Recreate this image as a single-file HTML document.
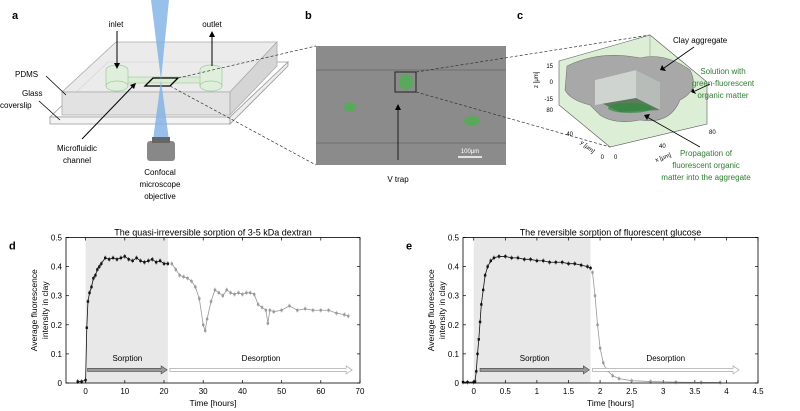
<!DOCTYPE html>
<html><head><meta charset="utf-8"><style>
body{margin:0;background:#fff;}
svg{display:block;font-family:"Liberation Sans",sans-serif;}
</style></head><body>
<svg width="800" height="411" viewBox="0 0 800 411">
<!-- Panel a -->
<g>
<text x="12" y="19" font-size="11" font-weight="bold">a</text>
<polygon points="50,117 230,117 288,62 108,62" fill="#fff" stroke="#999" stroke-width="0.8"/>
<polygon points="50,117 230,117 230,124 50,124" fill="#f3f3f3" stroke="#999" stroke-width="0.8"/>
<polygon points="230,117 288,62 288,66 230,124" fill="#eee" stroke="#999" stroke-width="0.8"/>
<polygon points="62,92 230,92 277,42 116,42" fill="#e6e6e6" fill-opacity="0.8" stroke="#aaa" stroke-width="0.8"/>
<polygon points="62,92 230,92 230,115 62,115" fill="#e2e2e2" stroke="#aaa" stroke-width="0.8"/>
<polygon points="230,92 277,42 277,66 230,115" fill="#d5d5d5" stroke="#aaa" stroke-width="0.8"/>
<rect x="118" y="77" width="90" height="6" fill="#dcebd6" stroke="#9c9" stroke-width="0.6"/>
<ellipse cx="117" cy="70" rx="11" ry="5" fill="#e0eedc" stroke="#9c9" stroke-width="0.7"/>
<rect x="106" y="70" width="22" height="16" fill="#e0eedc" stroke="none"/>
<ellipse cx="117" cy="86" rx="11" ry="5" fill="#e0eedc" stroke="#9c9" stroke-width="0.7"/>
<line x1="106" y1="70" x2="106" y2="86" stroke="#9c9" stroke-width="0.7"/><line x1="128" y1="70" x2="128" y2="86" stroke="#9c9" stroke-width="0.7"/>
<ellipse cx="211" cy="70" rx="11" ry="5" fill="#e0eedc" stroke="#9c9" stroke-width="0.7"/>
<rect x="200" y="70" width="22" height="16" fill="#e0eedc" stroke="none"/>
<ellipse cx="211" cy="86" rx="11" ry="5" fill="#e0eedc" stroke="#9c9" stroke-width="0.7"/>
<line x1="200" y1="70" x2="200" y2="86" stroke="#9c9" stroke-width="0.7"/><line x1="222" y1="70" x2="222" y2="86" stroke="#9c9" stroke-width="0.7"/>
<polygon points="145,86 170,86 178,78 153,78" fill="none" stroke="#000" stroke-width="1.3"/>
<polygon points="151,0 169,0 161,80" fill="#7fb0e6" fill-opacity="0.8"/>
<polygon points="161,80 153,140 169,140" fill="#7fb0e6" fill-opacity="0.8"/>
<rect x="147" y="141" width="28" height="20" rx="3" fill="#888"/>
<rect x="152" y="137" width="18" height="6" fill="#666"/>
<text x="116" y="27" font-size="8" text-anchor="middle">inlet</text>
<line x1="117" y1="31" x2="117" y2="66" stroke="#000" stroke-width="1"/><polygon points="114,63 120,63 117,69"/>
<text x="212" y="27" font-size="8" text-anchor="middle">outlet</text>
<line x1="212" y1="66" x2="212" y2="34" stroke="#000" stroke-width="1"/><polygon points="209,37 215,37 212,31"/>
<text x="15" y="77" font-size="8">PDMS</text>
<line x1="46" y1="76" x2="66" y2="95" stroke="#000" stroke-width="0.8"/>
<text x="22" y="96" font-size="8">Glass</text><text x="0" y="108" font-size="8">coverslip</text>
<line x1="39" y1="101" x2="60" y2="120" stroke="#000" stroke-width="0.8"/>
<text x="77" y="151" font-size="8" text-anchor="middle">Microfluidic</text><text x="77" y="163" font-size="8" text-anchor="middle">channel</text>
<line x1="82" y1="139" x2="134" y2="85" stroke="#000" stroke-width="1"/><polygon points="130,85 136,83 134,89"/>
<text x="160" y="175" font-size="8" text-anchor="middle">Confocal</text><text x="160" y="187" font-size="8" text-anchor="middle">microscope</text><text x="160" y="199" font-size="8" text-anchor="middle">objective</text>
<line x1="178" y1="78" x2="316" y2="46" stroke="#333" stroke-width="0.7" stroke-dasharray="3,2"/>
<line x1="170" y1="86" x2="316" y2="165" stroke="#333" stroke-width="0.7" stroke-dasharray="3,2"/>
</g>
<!-- Panel b -->
<g>
<text x="305" y="19" font-size="11" font-weight="bold">b</text>
<rect x="316" y="46" width="190" height="119" fill="#8b8b8b"/>
<line x1="316" y1="70" x2="506" y2="70" stroke="#666" stroke-width="0.8"/>
<line x1="316" y1="143" x2="506" y2="143" stroke="#666" stroke-width="0.8"/>
<ellipse cx="350" cy="107" rx="6" ry="5" fill="#4caf50" fill-opacity="0.8"/>
<ellipse cx="406" cy="82" rx="7" ry="8" fill="#4caf50" fill-opacity="0.8"/>
<ellipse cx="472" cy="121" rx="8" ry="5" fill="#4caf50" fill-opacity="0.8"/>
<rect x="395" y="72" width="21" height="20" fill="none" stroke="#222" stroke-width="1"/>
<line x1="398" y1="160" x2="398" y2="107" stroke="#000" stroke-width="0.8"/><polygon points="395,110 401,110 398,104"/>
<text x="398" y="182" font-size="8" text-anchor="middle">V trap</text>
<text x="470" y="153" font-size="6" fill="#fff" text-anchor="middle">100μm</text>
<line x1="458" y1="157" x2="482" y2="157" stroke="#fff" stroke-width="1.5"/>
<line x1="416" y1="72" x2="650" y2="35" stroke="#333" stroke-width="0.7" stroke-dasharray="3,2"/>
<line x1="416" y1="92" x2="610" y2="147" stroke="#333" stroke-width="0.7" stroke-dasharray="3,2"/>
</g>
<!-- Panel c -->
<g>
<text x="517" y="19" font-size="11" font-weight="bold">c</text>
<polygon points="559,61 650,35 707,82 707,124 610,147 559,105" fill="#dcefd6" stroke="#555" stroke-width="0.6"/>
<line x1="650" y1="35" x2="650" y2="80" stroke="#888" stroke-width="0.5"/>
<path d="M567,66 Q600,50 640,58 Q665,52 690,70 Q700,90 680,100 Q670,125 640,120 Q615,125 600,115 L590,105 Q570,100 565,90 Z" fill="#a8a8a8" stroke="#777" stroke-width="0.6"/>
<polygon points="595,80 636,70 660,82 660,110 620,112 595,100" fill="#5c7a5c"/>
<polygon points="595,80 636,70 636,98 595,105" fill="#d0d4d0"/>
<polygon points="636,70 660,82 660,110 636,98" fill="#b8bcb8"/>
<ellipse cx="630" cy="108" rx="22" ry="5" fill="#2e8b3e" fill-opacity="0.7"/>
<text x="553" y="68" font-size="6" text-anchor="end">15</text><text x="553" y="84" font-size="6" text-anchor="end">0</text><text x="553" y="101" font-size="6" text-anchor="end">-15</text>
<text x="553" y="112" font-size="6" text-anchor="end">80</text><text x="573" y="136" font-size="6" text-anchor="end">40</text><text x="604" y="159" font-size="6" text-anchor="end">0</text>
<text x="614" y="159" font-size="6">0</text><text x="659" y="148" font-size="6">40</text><text x="709" y="134" font-size="6">80</text>
<text x="538" y="88" font-size="6" transform="rotate(-90 538 88)">z [μm]</text>
<text x="580" y="143" font-size="6" transform="rotate(40 580 143)">y [μm]</text>
<text x="656" y="162" font-size="6" transform="rotate(-20 656 162)">x [μm]</text>
<text x="673" y="43" font-size="8">Clay aggregate</text>
<line x1="694" y1="47" x2="664" y2="68" stroke="#000" stroke-width="0.8"/><polygon points="662,65 666,71 660,70"/>
<text x="723" y="74" font-size="8" fill="#2e7d32" text-anchor="middle">Solution with</text>
<text x="723" y="86" font-size="8" fill="#2e7d32" text-anchor="middle">green-fluorescent</text>
<text x="723" y="98" font-size="8" fill="#2e7d32" text-anchor="middle">organic matter</text>
<line x1="710" y1="84" x2="695" y2="91" stroke="#000" stroke-width="0.8"/><polygon points="693,88 696,94 691,92"/>
<text x="706" y="156" font-size="8" fill="#2e7d32" text-anchor="middle">Propagation of</text>
<text x="706" y="168" font-size="8" fill="#2e7d32" text-anchor="middle">fluorescent organic</text>
<text x="706" y="180" font-size="8" fill="#2e7d32" text-anchor="middle">matter into the aggregate</text>
<line x1="700" y1="147" x2="647" y2="117" stroke="#000" stroke-width="0.8"/><polygon points="644,115 650,114 647,120"/>
</g>
<g id="chartD"></g>
<g id="chartE"></g>
</svg>
<script>
const dSorpT=[-2,-1,0,0.3,0.6,1,1.5,2,2.5,3,3.5,4,5,6,7,8,9,10,11,12,13,14,15,16,17,18,19,20,21];
const dSorpV=[0.005,0.005,0.01,0.19,0.28,0.31,0.33,0.36,0.37,0.39,0.40,0.41,0.43,0.425,0.43,0.425,0.43,0.435,0.425,0.42,0.43,0.42,0.415,0.42,0.425,0.415,0.42,0.41,0.41];
const dDesT=[22,23,24,25,26,27,28,29,30,30.5,31,32,33,34,35,36,37,38,39,40,41,42,43,44,45,46,46.5,47,48,50,52,54,56,58,60,62,64,66,67];
const dDesV=[0.41,0.39,0.37,0.365,0.36,0.35,0.33,0.29,0.2,0.18,0.22,0.28,0.32,0.31,0.3,0.32,0.31,0.305,0.31,0.305,0.31,0.31,0.305,0.27,0.26,0.25,0.205,0.25,0.245,0.25,0.265,0.25,0.255,0.25,0.25,0.25,0.24,0.235,0.23];
const dXTicks=[0,10,20,30,40,50,60,70];
const eSorpT=[-0.17,-0.1,0,0.02,0.04,0.06,0.08,0.1,0.12,0.15,0.18,0.22,0.27,0.32,0.4,0.5,0.6,0.7,0.8,0.9,1.0,1.1,1.2,1.3,1.4,1.5,1.6,1.7,1.8,1.85];
const eSorpV=[0.003,0.003,0.003,0.005,0.04,0.1,0.15,0.21,0.27,0.32,0.37,0.4,0.42,0.43,0.435,0.435,0.43,0.43,0.425,0.425,0.42,0.42,0.415,0.415,0.415,0.41,0.41,0.405,0.4,0.395];
const eDesT=[1.88,1.92,1.96,2.0,2.05,2.1,2.2,2.3,2.5,2.8,3.2,3.6,3.9];
const eDesV=[0.38,0.3,0.2,0.12,0.07,0.045,0.025,0.015,0.008,0.005,0.003,0.002,0.002];
const eXTicks=[0,0.5,1,1.5,2,2.5,3,3.5,4,4.5];
const yTicks=[0,0.1,0.2,0.3,0.4,0.5];
const NS="http://www.w3.org/2000/svg";
function mk(p,tag,at,txt){const e=document.createElementNS(NS,tag);for(const k in at)e.setAttribute(k,at[k]);if(txt!==undefined)e.textContent=txt;p.appendChild(e);return e;}
function chart(g,o){
 const X=v=>o.x0+(v-o.xmin)/(o.xmax-o.xmin)*(o.x1-o.x0);
 const Y=v=>o.y1-v/0.5*(o.y1-o.y0);
 let r=mk(g,'rect',{x:X(0),y:o.y0,width:X(o.shadeEnd)-X(0),height:o.y1-o.y0,fill:'#e8e8e8'});
 
 
 let t=mk(g,'text',{x:(o.x0+o.x1)/2,y:o.y0-2,'font-size':9,'text-anchor':'middle'},o.title);
 
 
 mk(g,'text',{x:o.x0-57,y:o.y0+12,'font-size':11,'font-weight':'bold'},o.label);
 yTicks.forEach(v=>{mk(g,'line',{x1:o.x0,x2:o.x0+3,y1:Y(v),y2:Y(v),stroke:'#000','stroke-width':0.7});mk(g,'line',{x1:o.x1,x2:o.x1-3,y1:Y(v),y2:Y(v),stroke:'#000','stroke-width':0.7});
  let tl=mk(g,'text',{x:o.x0-4,y:Y(v)+3,'font-size':8,'text-anchor':'end'},String(v));
  
  });
 o.xt.forEach(v=>{mk(g,'line',{x1:X(v),x2:X(v),y1:o.y1,y2:o.y1-3,stroke:'#000','stroke-width':0.7});mk(g,'line',{x1:X(v),x2:X(v),y1:o.y0,y2:o.y0+3,stroke:'#000','stroke-width':0.7});
  let tl=mk(g,'text',{x:X(v),y:o.y1+11,'font-size':8,'text-anchor':'middle'},String(v));
  
  });
 let xl=mk(g,'text',{x:(o.x0+o.x1)/2,y:o.y1+23,'font-size':8.5,'text-anchor':'middle'},'Time [hours]');
 
 
 let yl=mk(g,'text',{'font-size':8.5,'text-anchor':'middle',transform:`translate(${o.x0-24},${(o.y0+o.y1)/2}) rotate(-90)`});
 
 
 mk(yl,'tspan',{x:0,dy:-5},'Average fluorescence');mk(yl,'tspan',{x:0,dy:11},'intensity in clay');
 function series(T,V,col,nm){
  let p=mk(g,'polyline',{points:T.map((t,i)=>X(t)+','+Y(V[i])).join(' '),fill:'none',stroke:col,'stroke-width':0.8});
  
  
  T.forEach((t,i)=>{const e=0.008;mk(g,'line',{x1:X(t),x2:X(t),y1:Y(V[i]-e),y2:Y(V[i]+e),stroke:col,'stroke-width':0.5});
   let m=mk(g,'rect',{x:X(t)-1.2,y:Y(V[i])-1.2,width:2.4,height:2.4,fill:col});
   
   });
 }
 series(o.sT,o.sV,'#111','sorption');
 series(o.dT,o.dV,'#999','desorption');
 mk(g,'rect',{x:o.x0,y:o.y0,width:o.x1-o.x0,height:o.y1-o.y0,fill:'none',stroke:'#000','stroke-width':0.8});
 const ay=Y(0.045);
 function arrow(a,b,col,fill,txt,nm){const x1=X(a),x2=X(b);
  let p=mk(g,'path',{d:`M${x1},${ay-1.5}L${x2-6},${ay-1.5}L${x2-6},${ay-4}L${x2},${ay}L${x2-6},${ay+4}L${x2-6},${ay+1.5}L${x1},${ay+1.5}Z`,fill:fill,stroke:col,'stroke-width':0.7});
  
  
  let tt=mk(g,'text',{x:(x1+x2)/2,y:ay-9,'font-size':8,'text-anchor':'middle'},txt);
  
  }
 arrow(o.a1[0],o.a1[1],'#555','#999','Sorption','sorption');
 arrow(o.a2[0],o.a2[1],'#aaa','#fff','Desorption','desorption');
}
chart(document.getElementById('chartD'),{x0:66,x1:360,y0:237.5,y1:383,xmin:-5,xmax:70,shadeEnd:21,title:'The quasi-irreversible sorption of 3-5 kDa dextran',label:'d',xt:dXTicks,sT:dSorpT,sV:dSorpV,dT:dDesT,dV:dDesV,a1:[0.5,20.8],a2:[21.5,68]});
chart(document.getElementById('chartE'),{x0:463,x1:758,y0:237.5,y1:383,xmin:-0.17,xmax:4.5,shadeEnd:1.85,title:'The reversible sorption of fluorescent glucose',label:'e',xt:eXTicks,sT:eSorpT,sV:eSorpV,dT:eDesT,dV:eDesV,a1:[0.1,1.83],a2:[1.88,4.2]});
</script>
</body></html>
